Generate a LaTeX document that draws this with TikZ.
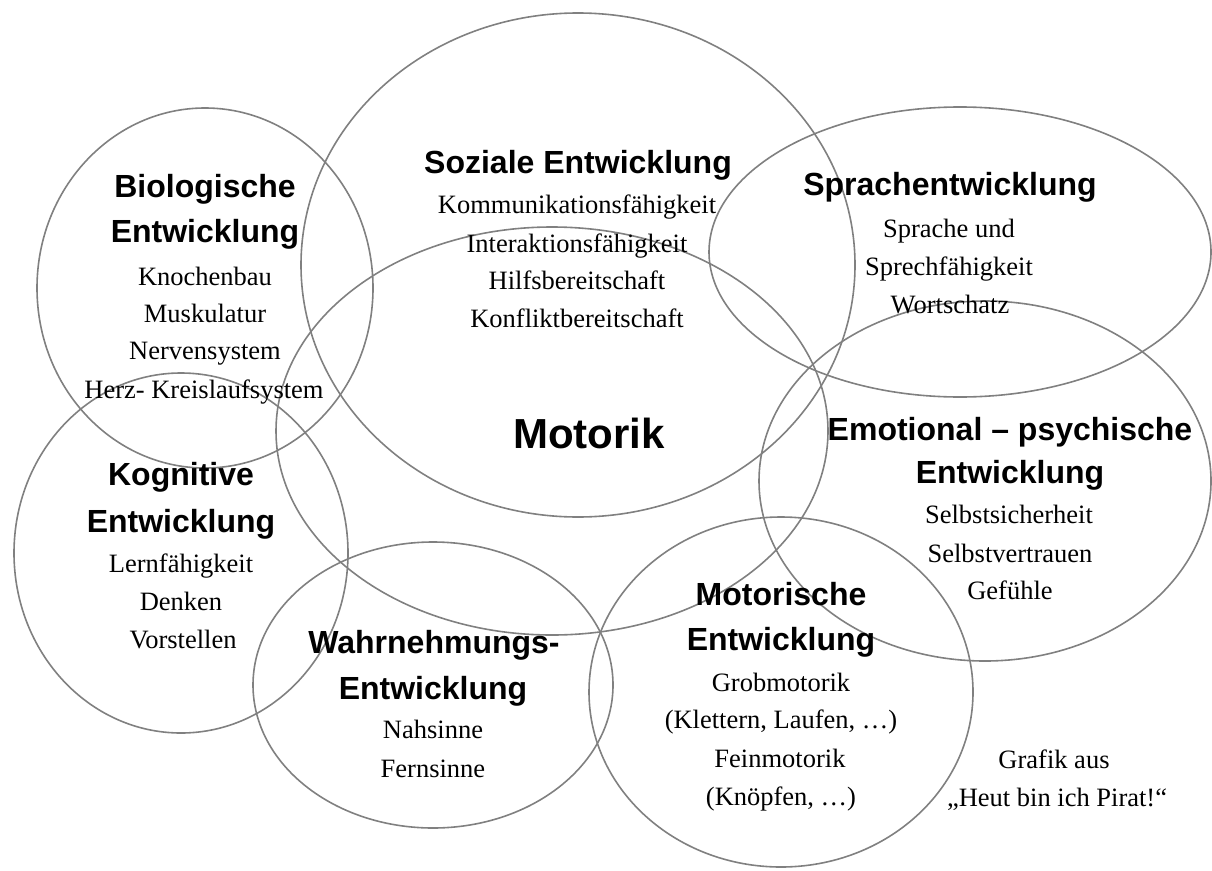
\documentclass[tikz,border=0pt]{standalone}
\usepackage{fontspec}
\setmainfont{Liberation Serif}
\newfontfamily\headfont{Liberation Sans}
\definecolor{ringgray}{RGB}{128,128,128}
\tikzset{
  ring/.style={draw=ringgray, line width=1.6pt},
  body/.style={anchor=base, inner sep=0pt, font=\fontsize{26.5}{30}\selectfont},
  head/.style={anchor=base, inner sep=0pt, font=\headfont\bfseries\fontsize{32}{36}\selectfont},
  bighead/.style={anchor=base, inner sep=0pt, font=\headfont\bfseries\fontsize{42}{46}\selectfont}
}
\begin{document}
\begin{tikzpicture}[x=1pt,y=-1pt]
\useasboundingbox (0,0) rectangle (1212,870);
% ellipses
\draw[ring] (205,288) ellipse [x radius=168pt, y radius=180pt]; % Biologische
\draw[ring] (578,265) ellipse [x radius=277pt, y radius=252pt]; % Soziale
\draw[ring] (960,252) ellipse [x radius=251pt, y radius=145pt]; % Sprache
\draw[ring] (552,431) ellipse [x radius=276pt, y radius=204pt]; % Motorik
\draw[ring] (181,553) ellipse [x radius=167pt, y radius=180pt]; % Kognitive
\draw[ring] (985,481) ellipse [x radius=226pt, y radius=180pt]; % Emotional
\draw[ring] (433,685) ellipse [x radius=180pt, y radius=143pt]; % Wahrnehmung
\draw[ring] (781,692) ellipse [x radius=192pt, y radius=175pt]; % Motorische
% Biologische
\node[head] (bio1) at (205,197) {Biologische};
\node[head] (bio2) at (205,242) {Entwicklung};
\node[body] (bio3) at (205,285) {Knochenbau};
\node[body] (bio4) at (205,322) {Muskulatur};
\node[body] (bio5) at (205,359) {Nervensystem};
\node[body] (bio6) at (204,398) {Herz- Kreislaufsystem};
% Soziale
\node[head] (soz1) at (578,173) {Soziale Entwicklung};
\node[body] (soz2) at (577,213) {Kommunikationsfähigkeit};
\node[body] (soz3) at (577,252) {Interaktionsfähigkeit};
\node[body] (soz4) at (577,289) {Hilfsbereitschaft};
\node[body] (soz5) at (577,327) {Konfliktbereitschaft};
% Sprache
\node[head] (spr1) at (950,195) {Sprachentwicklung};
\node[body] (spr2) at (949,237) {Sprache und};
\node[body] (spr3) at (949,275) {Sprechfähigkeit};
\node[body] (spr4) at (950,313) {Wortschatz};
% Motorik
\node[bighead] (mot) at (589,448) {Motorik};
% Kognitive
\node[head] (kog1) at (181,485) {Kognitive};
\node[head] (kog2) at (181,532) {Entwicklung};
\node[body] (kog3) at (181,572) {Lernfähigkeit};
\node[body] (kog4) at (181,610) {Denken};
\node[body] (kog5) at (183,648) {Vorstellen};
% Emotional
\node[head] (emo1) at (1010,440) {Emotional – psychische};
\node[head] (emo2) at (1010,483) {Entwicklung};
\node[body] (emo3) at (1009,523) {Selbstsicherheit};
\node[body] (emo4) at (1010,562) {Selbstvertrauen};
\node[body] (emo5) at (1010,599) {Gefühle};
% Wahrnehmung
\node[head] (wah1) at (434,653) {Wahrnehmungs-};
\node[head] (wah2) at (433,699) {Entwicklung};
\node[body] (wah3) at (433,738) {Nahsinne};
\node[body] (wah4) at (433,777) {Fernsinne};
% Motorische
\node[head] (mos1) at (781,605) {Motorische};
\node[head] (mos2) at (781,650) {Entwicklung};
\node[body] (mos3) at (781,691) {Grobmotorik};
\node[body] (mos4) at (781,728) {(Klettern, Laufen, …)};
\node[body] (mos5) at (780,767) {Feinmotorik};
\node[body] (mos6) at (781,805) {(Knöpfen, …)};
% Quelle
\node[body] (src1) at (1054,768) {Grafik aus};
\node[body] (src2) at (1057,806) {„Heut bin ich Pirat!“};
\end{tikzpicture}
\end{document}
